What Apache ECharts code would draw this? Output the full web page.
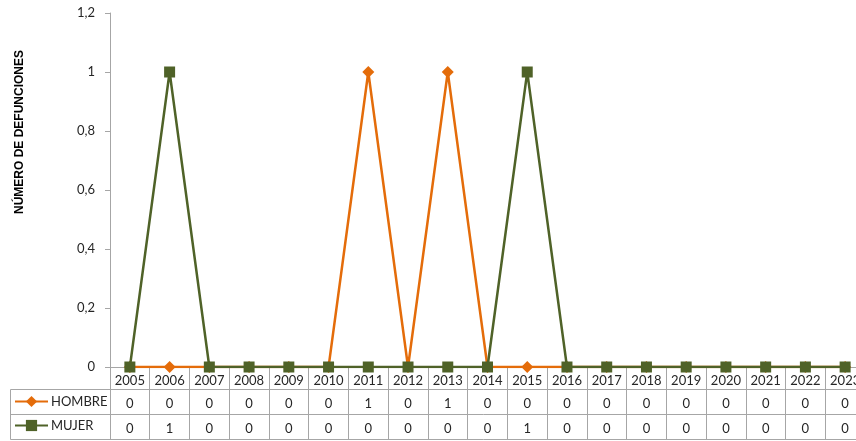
<!DOCTYPE html>
<html>
<head>
<meta charset="utf-8">
<script src="https://cdn.jsdelivr.net/npm/echarts@6/dist/echarts.min.js"></script>
<style>
  html, body { margin: 0; padding: 0; background: #fff; }
  #chart { width: 856px; height: 441px; }
</style>
</head>
<body>
<div id="chart"></div>
<script>
// datos
let years = ["2005", "2006", "2007", "2008", "2009", "2010", "2011", "2012", "2013", "2014",
    "2015", "2016", "2017", "2018", "2019", "2020", "2021", "2022", "2023"];
let hombre = [0, 0, 0, 0, 0, 0, 1, 0, 1, 0, 0, 0, 0, 0, 0, 0, 0, 0, 0];
let mujer = [0, 1, 0, 0, 0, 0, 0, 0, 0, 0, 1, 0, 0, 0, 0, 0, 0, 0, 0];

let colorHombre = "#E46C0A";
let colorMujer = "#4F6228";
let lineGray = "#A6A6A6";
let textColor = "#262626";
let font = "Lato";

let Chart = echarts.init(document.getElementById("chart"));

// filas de la tabla: eje extra con desplazamiento
function tableAxis(offset, values) {
    return {
        type: 'category',
        gridIndex: 0,
        position: 'bottom',
        offset: offset,
        data: years,
        boundaryGap: true,
        axisLine: { show: true, lineStyle: { color: lineGray, width: 1 } },
        axisTick: { show: false },
        axisLabel: {
            show: values !== null,
            interval: 0,
            margin: 8,
            color: textColor,
            fontFamily: font,
            fontSize: 13,
            formatter: function (val, idx) {
                return values ? String(values[idx]) : '';
            }
        }
    };
}

let option = {
    animation: false,
    grid: {
        left: 110,
        right: -9,
        top: 13,
        bottom: 74,
        containLabel: false,
        outerBoundsMode: 'none'
    },
    legend: {
        orient: 'vertical',
        left: 14,
        top: 395,
        padding: 0,
        itemGap: 11,
        itemWidth: 33,
        itemHeight: 14,
        data: ['HOMBRE', 'MUJER'],
        textStyle: { color: textColor, fontFamily: font, fontSize: 13, padding: [0, 0, 0, -2] }
    },
    xAxis: [
        {
            type: 'category',
            data: years,
            boundaryGap: true,
            axisLine: { show: true, lineStyle: { color: lineGray, width: 1 } },
            axisTick: {
                show: true,
                interval: 0,
                length: 72,
                lineStyle: { color: lineGray, width: 1 }
            },
            axisLabel: {
                interval: 0,
                margin: 7,
                color: textColor,
                fontFamily: font,
                fontSize: 13
            }
        },
        tableAxis(22, hombre),
        tableAxis(47, mujer),
        tableAxis(72, null)
    ],
    yAxis: {
        type: 'value',
        min: 0,
        max: 1.2,
        interval: 0.2,
        axisLine: { show: true, lineStyle: { color: lineGray, width: 1 } },
        axisTick: { show: true, length: 5, lineStyle: { color: lineGray } },
        splitLine: { show: false },
        axisLabel: {
            margin: 15,
            color: textColor,
            fontFamily: font,
            fontSize: 13,
            formatter: function (val) {
                return String(Math.round(val * 10) / 10).replace('.', ',');
            }
        }
    },
    graphic: [
        {
            type: 'text',
            x: 20,
            y: 132,
            rotation: Math.PI / 2,
            style: {
                text: 'NÚMERO DE DEFUNCIONES',
                fill: '#000',
                font: 'bold 12px "Liberation Sans"',
                align: 'center',
                verticalAlign: 'middle'
            }
        },
        // columna de la leyenda
        { type: 'line', shape: { x1: 10.5, y1: 389.5, x2: 110, y2: 389.5 }, style: { stroke: lineGray, lineWidth: 1 } },
        { type: 'line', shape: { x1: 10.5, y1: 414.5, x2: 110, y2: 414.5 }, style: { stroke: lineGray, lineWidth: 1 } },
        { type: 'line', shape: { x1: 10.5, y1: 439.5, x2: 110, y2: 439.5 }, style: { stroke: lineGray, lineWidth: 1 } },
        { type: 'line', shape: { x1: 10.5, y1: 389.5, x2: 10.5, y2: 439.5 }, style: { stroke: lineGray, lineWidth: 1 } }
    ],
    series: [
        {
            name: 'HOMBRE',
            type: 'line',
            data: hombre,
            symbol: 'diamond',
            symbolSize: 12,
            itemStyle: { color: colorHombre },
            lineStyle: { color: colorHombre, width: 2.5 },
            z: 2
        },
        {
            name: 'MUJER',
            type: 'line',
            data: mujer,
            symbol: 'rect',
            symbolSize: 11,
            itemStyle: { color: colorMujer },
            lineStyle: { color: colorMujer, width: 2.5 },
            z: 3
        }
    ]
};

Chart.setOption(option);
</script>
</body>
</html>
